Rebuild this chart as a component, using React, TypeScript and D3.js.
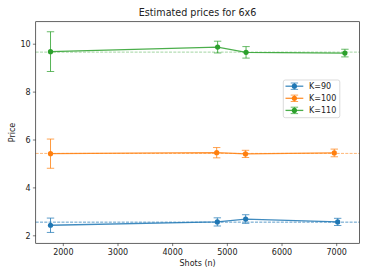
import React from "react";
import * as d3 from "d3";

const W = 369;
const H = 277;

const labels = ["K=90", "K=100", "K=110"];
const colors = ["#1f77b4", "#ff7f0e", "#2ca02c"];
const shots90 = [1766, 4817, 5335, 7018];
const shots100 = [1766, 4805, 5332, 6956];
const shots110 = [1766, 4822, 5342, 7150];
const price90 = [2.44, 2.58, 2.7, 2.58];
const err90 = [0.3, 0.17, 0.18, 0.15];
const price100 = [5.43, 5.47, 5.42, 5.46];
const err100 = [0.61, 0.215, 0.15, 0.16];
const price110 = [9.69, 9.88, 9.66, 9.63];
const err110 = [0.83, 0.245, 0.24, 0.16];
const refPrices = [2.57, 5.44, 9.67];
const xTicks = [2000, 3000, 4000, 5000, 6000, 7000];
const yTicks = [2, 4, 6, 8, 10];

const series = [
  { x: shots90, y: price90, e: err90 },
  { x: shots100, y: price100, e: err100 },
  { x: shots110, y: price110, e: err110 },
];

const L = 35.7, R = 359.5, T = 21.7, B = 243.3;
const font = "DejaVu Sans, sans-serif";

export default function App() {
  const x = d3.scaleLinear().domain([1495, 7417]).range([L, R]);
  const y = d3.scaleLinear().domain([1.687, 10.94]).range([B, T]);
  const line = d3
    .line<[number, number]>()
    .x((d) => x(d[0]))
    .y((d) => y(d[1]));
  const cap = 3.7;
  const alphaRef = [0.9, 0.7, 0.55];

  return (
    <svg
      width={W}
      height={H}
      style={{ position: "absolute", left: 0, top: 0, background: "#fff" }}
      fontFamily={font}
    >
      <rect x={0} y={0} width={W} height={H} fill="#fff" />
      {refPrices.map((p, i) => (
        <line
          key={"ref" + i}
          x1={L}
          x2={R}
          y1={y(p)}
          y2={y(p)}
          stroke={colors[i]}
          strokeOpacity={alphaRef[i]}
          strokeWidth={0.8}
          strokeDasharray="3,1.3"
        />
      ))}
      {series.map((s, i) => {
        const pts: [number, number][] = s.x.map((xx, j) => [xx, s.y[j]]);
        return (
          <g key={"s" + i} stroke={colors[i]} fill={colors[i]}>
            <path d={line(pts) || ""} fill="none" strokeWidth={1.3} strokeOpacity={0.85} />
            {pts.map((p, j) => (
              <g key={j} strokeOpacity={0.8}>
                <line x1={x(p[0])} x2={x(p[0])} y1={y(p[1] - s.e[j])} y2={y(p[1] + s.e[j])} strokeWidth={1} />
                <line x1={x(p[0]) - cap} x2={x(p[0]) + cap} y1={y(p[1] - s.e[j])} y2={y(p[1] - s.e[j])} strokeWidth={0.9} />
                <line x1={x(p[0]) - cap} x2={x(p[0]) + cap} y1={y(p[1] + s.e[j])} y2={y(p[1] + s.e[j])} strokeWidth={0.9} />
                <circle cx={x(p[0])} cy={y(p[1])} r={2.6} stroke="none" />
              </g>
            ))}
          </g>
        );
      })}
      <rect x={L} y={T} width={R - L} height={B - T} fill="none" stroke="#222" strokeWidth={0.7} />
      {xTicks.map((t) => (
        <g key={"xt" + t}>
          <line x1={x(t)} x2={x(t)} y1={B} y2={B + 2.8} stroke="#222" strokeWidth={0.6} />
          <text x={x(t)} y={B + 11.5} fontSize={8} textAnchor="middle" fill="#222">
            {t}
          </text>
        </g>
      ))}
      {yTicks.map((t) => (
        <g key={"yt" + t}>
          <line x1={L - 2.8} x2={L} y1={y(t)} y2={y(t)} stroke="#222" strokeWidth={0.6} />
          <text x={L - 5} y={y(t) + 2.9} fontSize={8} textAnchor="end" fill="#222">
            {t}
          </text>
        </g>
      ))}
      <text x={(L + R) / 2} y={15.5} fontSize={9.6} textAnchor="middle" fill="#222">
        Estimated prices for 6x6
      </text>
      <text x={(L + R) / 2} y={266} fontSize={8} textAnchor="middle" fill="#222">
        Shots (n)
      </text>
      <text
        transform={`translate(14.5,${(T + B) / 2}) rotate(-90)`}
        fontSize={8}
        textAnchor="middle"
        fill="#222"
      >
        Price
      </text>
      <g>
        <rect x={283.3} y={80} width={56.5} height={37.7} rx={2} fill="#fff" fillOpacity={0.8} stroke="#ccc" strokeWidth={0.7} />
        {labels.map((lab, i) => {
          const ly = 86.2 + i * 12.1;
          return (
            <g key={lab} stroke={colors[i]} fill={colors[i]}>
              <line x1={285.5} x2={303.3} y1={ly} y2={ly} strokeWidth={1.3} strokeOpacity={0.85} />
              <line x1={294.4} x2={294.4} y1={ly - 3.2} y2={ly + 3.2} strokeWidth={1} strokeOpacity={0.8} />
              <line x1={294.4 - cap} x2={294.4 + cap} y1={ly - 3.2} y2={ly - 3.2} strokeWidth={0.9} strokeOpacity={0.8} />
              <line x1={294.4 - cap} x2={294.4 + cap} y1={ly + 3.2} y2={ly + 3.2} strokeWidth={0.9} strokeOpacity={0.8} />
              <circle cx={294.4} cy={ly} r={2.6} stroke="none" />
              <text x={309} y={ly + 2.9} fontSize={8} stroke="none" fill="#222">
                {lab}
              </text>
            </g>
          );
        })}
      </g>
    </svg>
  );
}
